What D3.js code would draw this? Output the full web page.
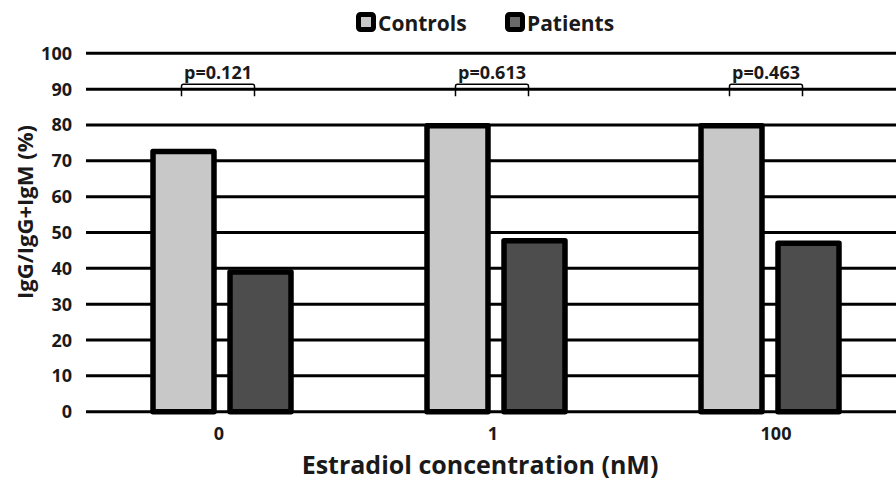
<!DOCTYPE html>
<html>
<head>
<meta charset="utf-8">
<script src="https://cdn.jsdelivr.net/npm/d3@7"></script>
<style>
  body { margin: 0; background: #fff; }
  text { font-family: "Open Sans", sans-serif; font-weight: bold; fill: #1a1a1a; }
</style>
</head>
<body>
<div id="chart"></div>
<script>
// data
var concentrations = ["0", "1", "100"];
var seriesNames = ["Controls", "Patients"];
var controls = [72.6, 79.8, 79.8];
var patients = [39.0, 47.7, 47.0];
var pValues = ["p=0.121", "p=0.613", "p=0.463"];
var yTicks = [0, 10, 20, 30, 40, 50, 60, 70, 80, 90, 100];
var colors = ["#c8c8c8", "#4d4d4d"];

var svgWidth = 896;
var svgHeight = 483;

var svg = d3.select("#chart")
  .append("svg")
  .attr("width", svgWidth)
  .attr("height", svgHeight);

// scales
var x0 = d3.scaleBand()
  .domain(concentrations)
  .range([85, 907]);

var x1 = d3.scaleBand()
  .domain(seriesNames)
  .range([-69, 69])
  .paddingInner(0.208);

var y = d3.scaleLinear()
  .domain([0, 100])
  .range([411.7, 53.3]);

// gridlines (one is the zero line)
svg.append("g")
  .selectAll("line")
  .data(yTicks)
  .enter()
  .append("line")
  .attr("x1", 86)
  .attr("x2", svgWidth)
  .attr("y1", d => y(d))
  .attr("y2", d => y(d))
  .attr("stroke", "#000")
  .attr("stroke-width", 3);

// y tick labels
svg.append("g")
  .selectAll("text")
  .data(yTicks)
  .enter()
  .append("text")
  .attr("x", 72)
  .attr("y", d => y(d))
  .attr("dy", "0.36em")
  .attr("text-anchor", "end")
  .attr("font-size", "18px")
  .text(d => d);

// bars
var rows = concentrations.map(function(c, i) {
  return { key: c, values: [controls[i], patients[i]] };
});

var groups = svg.append("g")
  .selectAll("g")
  .data(rows)
  .enter()
  .append("g")
  .attr("transform", d => `translate(${x0(d.key) + x0.bandwidth() / 2}, 0)`);

groups.selectAll("rect")
  .data(d => d.values.map((v, j) => ({ name: seriesNames[j], value: v, idx: j })))
  .enter()
  .append("rect")
  .attr("x", d => x1(d.name))
  .attr("width", x1.bandwidth())
  .attr("y", d => y(d.value))
  .attr("height", d => y(0) - y(d.value))
  .attr("fill", d => colors[d.idx])
  .attr("stroke", "#000")
  .attr("stroke-width", 5.5)
  .attr("stroke-linejoin", "round");

// p-value brackets
var bracketTop = y(90) - 5;
var bracketBottom = y(90) + 7;
groups.append("path")
  .attr("d", function() {
    var a = x1("Controls") + x1.bandwidth() / 2 - 2;
    var b = x1("Patients") + x1.bandwidth() / 2 - 6;
    return `M${a},${bracketBottom} L${a},${bracketTop + 2} Q${a},${bracketTop} ${a + 2},${bracketTop}` +
      ` L${b - 2},${bracketTop} Q${b},${bracketTop} ${b},${bracketTop + 2} L${b},${bracketBottom}`;
  })
  .attr("fill", "none")
  .attr("stroke", "#000")
  .attr("stroke-width", 1.5);

groups.append("text")
  .attr("x", (x1("Controls") + x1("Patients") + x1.bandwidth()) / 2 - 4)
  .attr("y", bracketTop - 5)
  .attr("text-anchor", "middle")
  .attr("font-size", "18px")
  .text((d, i) => pValues[i]);

// x tick labels
svg.append("g")
  .selectAll("text")
  .data(concentrations)
  .enter()
  .append("text")
  .attr("x", d => x0(d) + x0.bandwidth() / 2 + (d === "100" ? 6 : -3))
  .attr("y", 440)
  .attr("text-anchor", "middle")
  .attr("font-size", "18px")
  .text(d => d);

// axis titles
svg.append("text")
  .attr("x", 480)
  .attr("y", 474)
  .attr("text-anchor", "middle")
  .attr("font-size", "25px")
  .text("Estradiol concentration (nM)");

svg.append("text")
  .attr("transform", "translate(33, 212) rotate(-90)")
  .attr("text-anchor", "middle")
  .attr("font-size", "22px")
  .text("IgG/IgG+IgM (%)");

// legend
var legendX = [356, 505];
var legend = svg.append("g")
  .selectAll("g")
  .data(seriesNames)
  .enter()
  .append("g")
  .attr("transform", (d, i) => `translate(${legendX[i]}, 12)`);

legend.append("rect")
  .attr("x", 2.5)
  .attr("y", 2.5)
  .attr("width", 15)
  .attr("height", 15)
  .attr("rx", 2)
  .attr("fill", (d, i) => colors[i] === "#4d4d4d" ? "#6a6a6a" : colors[i])
  .attr("stroke", "#000")
  .attr("stroke-width", 5);

legend.append("text")
  .attr("x", 22)
  .attr("y", 18.5)
  .attr("font-size", "21px")
  .text(d => d);
</script>
</body>
</html>
